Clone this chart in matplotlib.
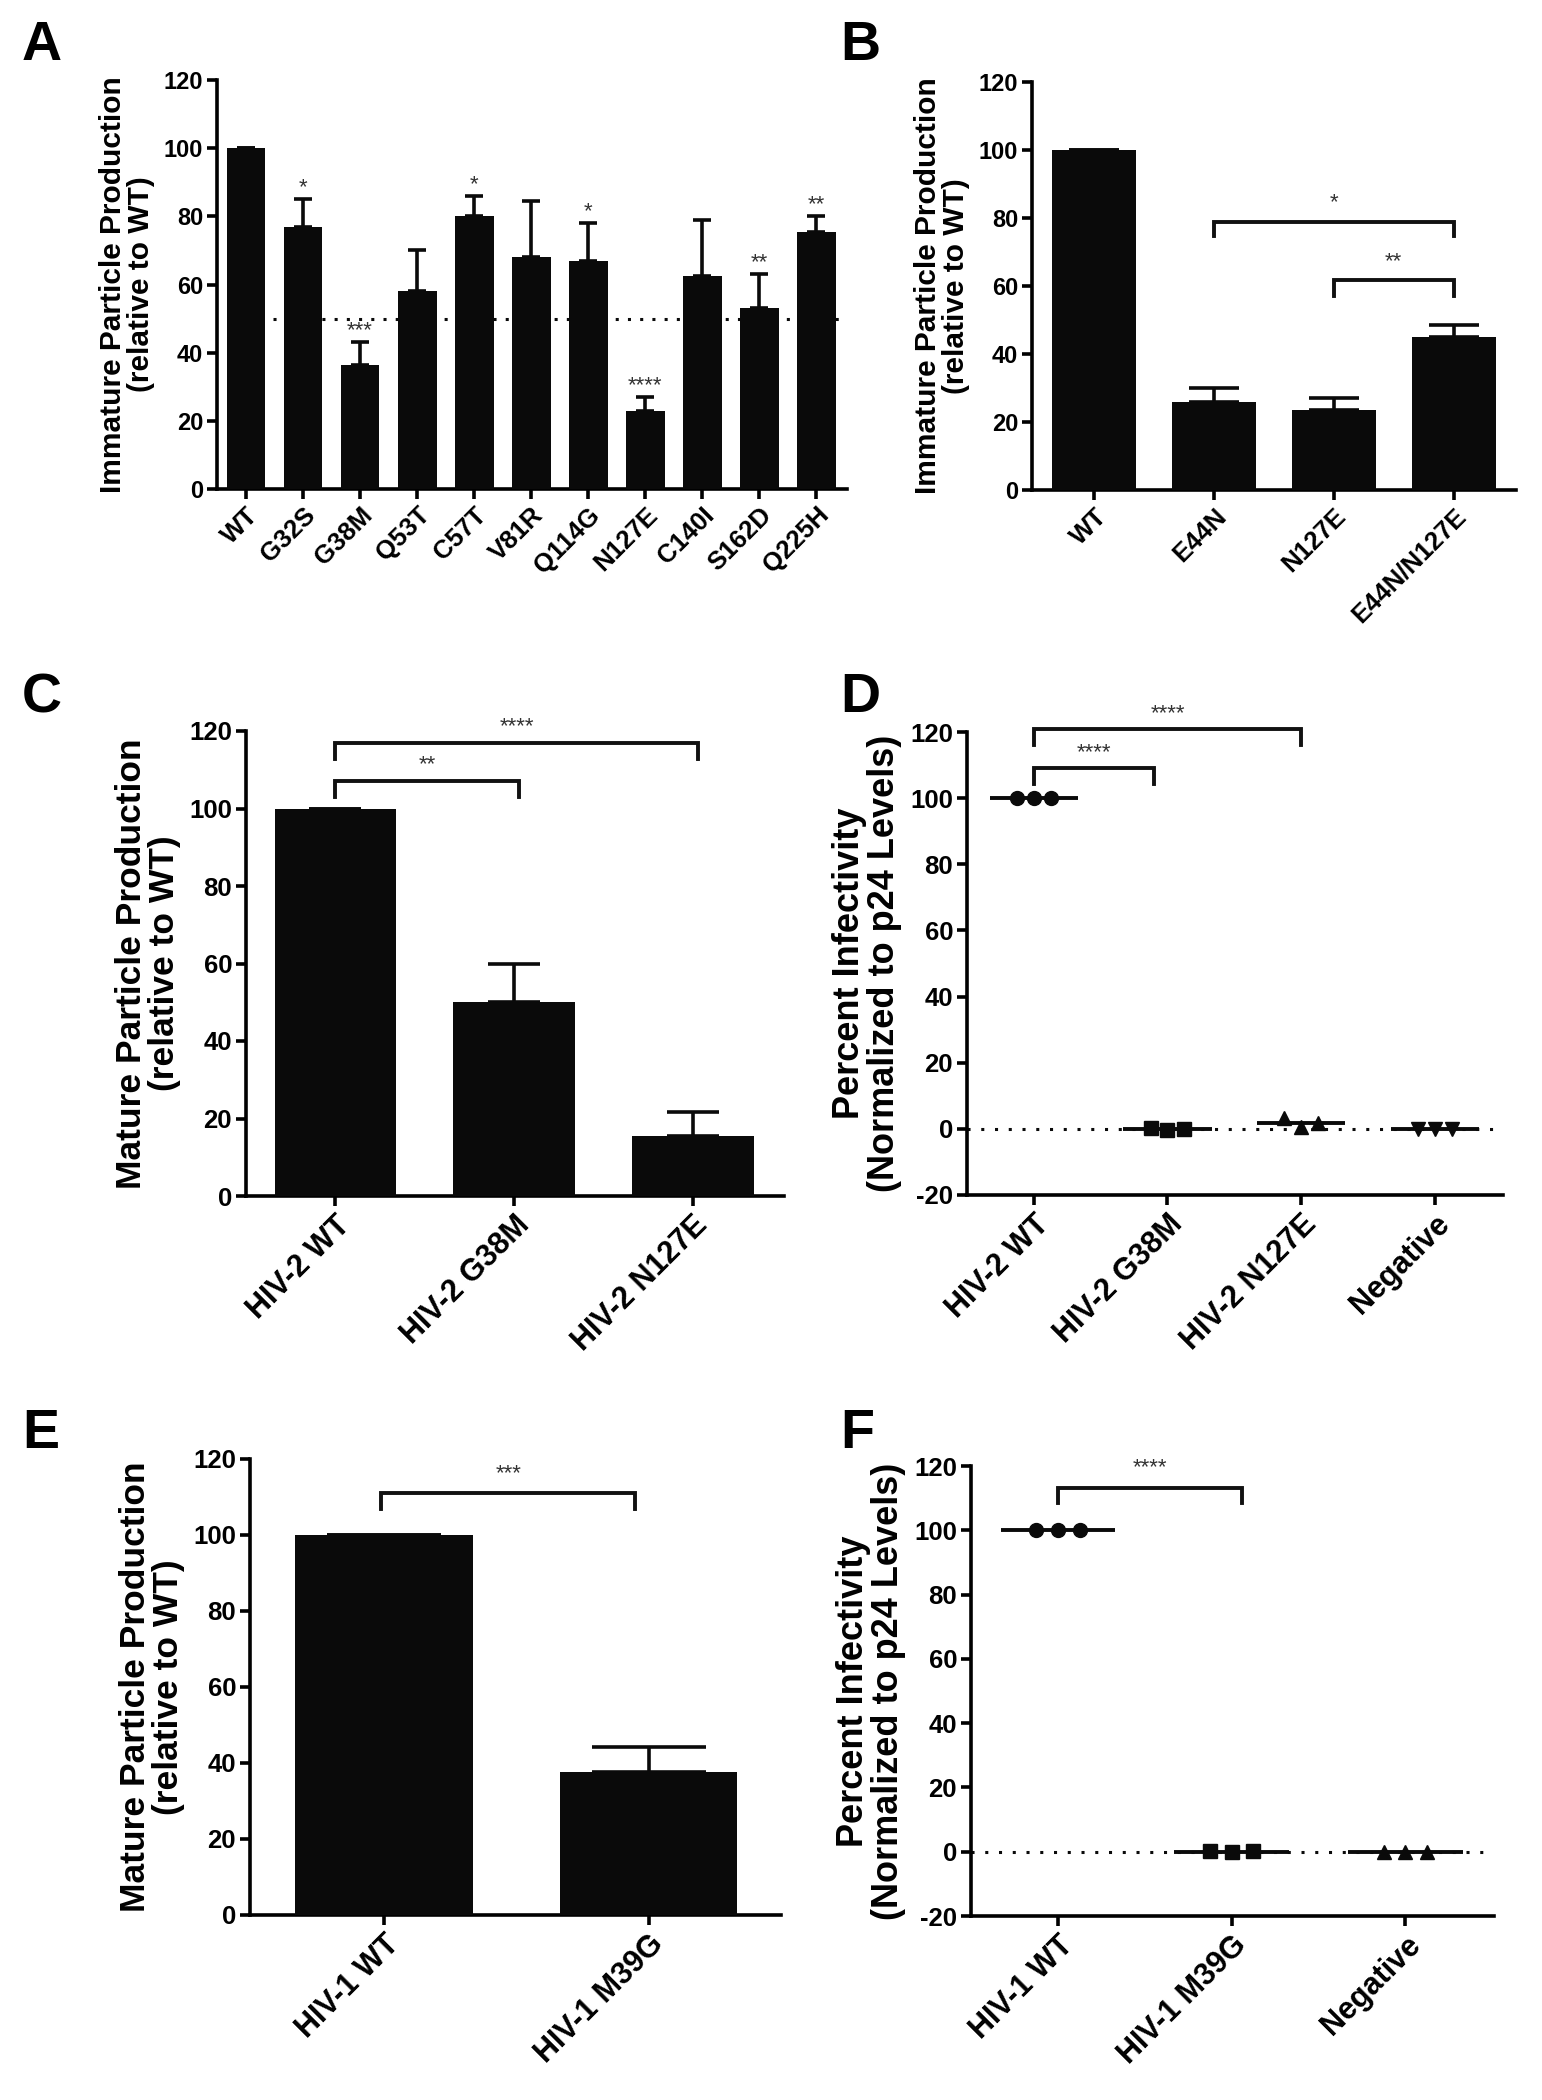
import numpy as np
import matplotlib
matplotlib.use("Agg")
import matplotlib.pyplot as plt
from matplotlib import font_manager

names = set(f.name for f in font_manager.fontManager.ttflist)
SANS = "Liberation Sans" if "Liberation Sans" in names else "DejaVu Sans"
NARROW = "Liberation Sans Narrow" if "Liberation Sans Narrow" in names else SANS
plt.rcParams["font.family"] = SANS
plt.rcParams["font.weight"] = "bold"
plt.rcParams["axes.unicode_minus"] = False

# ---- data ----
a_labels = ["WT", "G32S", "G38M", "Q53T", "C57T", "V81R", "Q114G", "N127E", "C140I", "S162D", "Q225H"]
a_vals = [100, 77, 36.5, 58, 80, 68, 67, 23, 62.5, 53, 75.5]
a_top = [100, 85, 43, 70, 86, 84.5, 78, 27, 79, 63, 80]
a_stars = ["", "*", "***", "", "*", "", "*", "****", "", "**", "**"]

b_labels = ["WT", "E44N", "N127E", "E44N/N127E"]
b_vals = [100, 26, 23.5, 45]
b_top = [100, 30, 27, 48.5]

c_labels = ["HIV-2 WT", "HIV-2 G38M", "HIV-2 N127E"]
c_vals = [100, 50, 15.5]
c_top = [100, 59.8, 21.8]

d_labels = ["HIV-2 WT", "HIV-2 G38M", "HIV-2 N127E", "Negative"]
d_points = [[100, 100, 100], [0.3, -0.2, 0.0], [3.2, 0.6, 1.8], [0.0, 0.1, 0.0]]

e_labels = ["HIV-1 WT", "HIV-1 M39G"]
e_vals = [100, 37.6]
e_top = [100, 44.2]

f_labels = ["HIV-1 WT", "HIV-1 M39G", "Negative"]
f_points = [[100, 100, 100], [0.1, 0.0, 0.1], [-0.2, -0.1, 0.0]]

W, H = 1542, 2100
fig = plt.figure(figsize=(W / 100, H / 100), dpi=100)


def mk(l, r, t, b):
    return fig.add_axes([l / W, 1 - b / H, (r - l) / W, (b - t) / H])


def style(ax, ylo, yhi, tick_font, tick_size, lw=2.6):
    ax.set_ylim(ylo, yhi)
    ax.set_yticks(np.arange(ylo, yhi + 1, 20))
    for s in ["top", "right"]:
        ax.spines[s].set_visible(False)
    for s in ["left", "bottom"]:
        ax.spines[s].set_linewidth(lw)
    ax.tick_params(axis="both", width=lw, length=7, direction="out", pad=3)
    for t in ax.get_yticklabels():
        t.set_fontfamily(tick_font)
        t.set_fontsize(tick_size)
        t.set_fontweight("bold")


def bars(ax, vals, tops, width, cap):
    x = np.arange(len(vals))
    err = [np.zeros(len(vals)), np.array(tops) - np.array(vals)]
    ax.bar(x, vals, width=width, color="#0a0a0a", zorder=3,
           yerr=err, capsize=cap,
           error_kw=dict(elinewidth=2.6, capthick=2.6, ecolor="#0a0a0a", zorder=2))
    return x


def xlab(ax, labels, size):
    ax.set_xticks(np.arange(len(labels)))
    ax.set_xticklabels(labels, rotation=45, ha="right", rotation_mode="anchor",
                       fontsize=size, fontweight="bold")


def bracket(ax, x0, x1, y, drop, txt, size, gap):
    ax.plot([x0, x0, x1, x1], [y - drop, y, y, y - drop], color="#111111",
            lw=2.8, clip_on=False, solid_joinstyle="miter")
    ax.text((x0 + x1) / 2, y + gap, txt, ha="center", va="bottom", fontsize=size,
            fontweight="normal", color="#333333", clip_on=False)


def dots(ax, pts, markers, ms):
    for i, p in enumerate(pts):
        m = np.mean(p)
        ax.hlines(m, i - 0.33, i + 0.33, color="#0a0a0a", lw=2.8, zorder=3)
        ax.plot(i + np.array([-0.125, 0, 0.125]), p, ls="none", marker=markers[i],
                ms=ms, color="#0a0a0a", zorder=4, clip_on=False)
    ax.axhline(0, color="#0a0a0a", lw=2.2, ls=(0, (1, 3.5)), zorder=1)


def letter(x, y, s):
    fig.text(x / W, 1 - y / H, s, fontsize=40, fontweight="bold", ha="left", va="top")


# ---- A ----
ax = mk(217, 847, 80, 489)
x = bars(ax, a_vals, a_top, 0.68, 6.5)
ax.hlines(50, 0.47, 10.55, color="#0a0a0a", lw=2.2, linestyles=(0, (1, 3)), zorder=1)
for i, s in enumerate(a_stars):
    if s:
        ax.text(i, a_top[i] + 0.3, s, ha="center", va="bottom", fontsize=16,
                fontweight="normal", color="#333333")
ax.set_xlim(-0.51, 10.54)
style(ax, 0, 120, NARROW, 17)
xlab(ax, a_labels, 18.5)
ax.set_ylabel("Immature Particle Production\n(relative to WT)", fontsize=21.5,
              fontweight="bold", labelpad=6, linespacing=1.0)
letter(22, 20, "A")

# ---- B ----
ax = mk(1032, 1516, 82, 490)
bars(ax, b_vals, b_top, 0.7, 18)
bracket(ax, 1, 3, 78.8, 4, "*", 16, 2.5)
bracket(ax, 2, 3, 61.7, 4.6, "**", 16, 2.5)
ax.set_xlim(-0.52, 3.52)
style(ax, 0, 120, NARROW, 17)
xlab(ax, b_labels, 18.5)
ax.set_ylabel("Immature Particle Production\n(relative to WT)", fontsize=21.5,
              fontweight="bold", labelpad=6, linespacing=1.0)
letter(840, 20, "B")

# ---- C ----
ax = mk(246, 784, 731, 1196)
bars(ax, c_vals, c_top, 0.68, 19)
bracket(ax, 0, 1.03, 107.2, 4.2, "**", 16, 1.5)
bracket(ax, 0, 2.03, 117, 4.3, "****", 16, 1.5)
ax.set_xlim(-0.5, 2.51)
style(ax, 0, 120, SANS, 18.5)
xlab(ax, c_labels, 22)
ax.set_ylabel("Mature Particle Production\n(relative to WT)", fontsize=25.5,
              fontweight="bold", labelpad=6, linespacing=1.0)
letter(22, 672, "C")

# ---- D ----
ax = mk(967, 1503, 732, 1195)
dots(ax, d_points, ["o", "s", "^", "v"], 10)
bracket(ax, 0, 0.9, 109, 4.8, "****", 16, 1.5)
bracket(ax, 0, 2.0, 121, 4.8, "****", 16, 1.5)
ax.set_xlim(-0.5, 3.51)
style(ax, -20, 120, SANS, 18.5)
xlab(ax, d_labels, 22)
ax.set_ylabel("Percent Infectivity\n(Normalized to p24 Levels)", fontsize=26,
              fontweight="bold", labelpad=6, linespacing=1.0)
letter(840, 672, "D")

# ---- E ----
ax = mk(250, 781, 1459, 1915)
bars(ax, e_vals, e_top, 0.67, 41)
bracket(ax, -0.01, 0.95, 111, 4.2, "***", 16, 2.5)
ax.set_xlim(-0.506, 1.5)
style(ax, 0, 120, SANS, 18.5)
xlab(ax, e_labels, 22)
ax.set_ylabel("Mature Particle Production\n(relative to WT)", fontsize=25.5,
              fontweight="bold", labelpad=6, linespacing=1.0)
letter(22, 1408, "E")

# ---- F ----
ax = mk(971, 1494, 1466, 1916)
dots(ax, f_points, ["o", "s", "^"], 10)
bracket(ax, 0, 1.06, 113.3, 4.7, "****", 16, 3)
ax.set_xlim(-0.5, 2.51)
style(ax, -20, 120, SANS, 18.5)
xlab(ax, f_labels, 22)
ax.set_ylabel("Percent Infectivity\n(Normalized to p24 Levels)", fontsize=26,
              fontweight="bold", labelpad=6, linespacing=1.0)
letter(840, 1408, "F")

fig.savefig("out.png", dpi=100, facecolor="white")
